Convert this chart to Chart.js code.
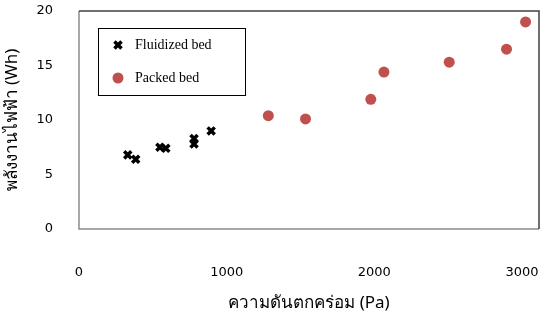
<!DOCTYPE html>
<html>
<head>
<meta charset="utf-8">
<script src="https://cdn.jsdelivr.net/npm/chart.js@4"></script>
<style>
  html, body { margin: 0; padding: 0; background: #fff; }
  #wrap { width: 541px; height: 325px; }
</style>
</head>
<body>
<div id="wrap"><canvas id="chart" width="541" height="325"></canvas></div>
<script>
// ─── Data ───
const seriesNames = ['Fluidized bed', 'Packed bed'];
const fluidX = [330, 384, 548, 588, 779, 779, 895];
const fluidY = [6.8, 6.4, 7.5, 7.4, 8.3, 7.8, 9.0];
const packedX = [1282, 1534, 1976, 2065, 2507, 2895, 3024];
const packedY = [10.4, 10.1, 11.9, 14.4, 15.3, 16.5, 19.0];
const xTicks = [0, 1000, 2000, 3000];
const yTicks = [0, 5, 10, 15, 20];
const xTitle = 'ความดันตกคร่อม (Pa)';
const yTitle = 'พลังงานไฟฟ้า (Wh)';

function toPoints(xs, ys) {
    return xs.map((x, i) => ({ x: x, y: ys[i] }));
}

// ─── Plot box + in-plot legend ───
const boxPlugin = {
    id: 'plotBox',
    afterDraw(chart) {
        const ctx = chart.ctx;
        const a = chart.chartArea;
        ctx.save();
        ctx.lineWidth = 1.5;
        ctx.strokeStyle = '#8c8c8c';
        ctx.beginPath();
        ctx.moveTo(a.left, a.top);
        ctx.lineTo(a.left, a.bottom);
        ctx.lineTo(a.right, a.bottom);
        ctx.stroke();
        ctx.strokeStyle = '#404040';
        ctx.beginPath();
        ctx.moveTo(a.left, a.top);
        ctx.lineTo(a.right, a.top);
        ctx.lineTo(a.right, a.bottom);
        ctx.stroke();

        // legend box
        const lx = a.left + 19, ly = a.top + 17, lw = 147, lh = 67;
        ctx.lineWidth = 1;
        ctx.strokeStyle = '#000';
        ctx.strokeRect(lx + 0.5, ly + 0.5, lw, lh);

        ctx.font = '14px "Liberation Serif", serif';
        ctx.textBaseline = 'middle';
        chart.data.datasets.forEach((ds, i) => {
            const cy = ly + 17 + i * 33;
            const cx = lx + 20;
            ctx.fillStyle = ds.backgroundColor;
            ctx.strokeStyle = ds.borderColor;
            ctx.lineWidth = ds.borderWidth;
            Chart.helpers.drawPoint(ctx, {
                pointStyle: ds.pointStyle,
                radius: ds.pointRadius,
                borderWidth: ds.borderWidth
            }, cx, cy);
            ctx.fillStyle = '#000';
            ctx.fillText(ds.label, cx + 17, cy);
        });
        ctx.restore();
    }
};

new Chart(document.getElementById('chart'), {
    type: 'scatter',
    data: {
        datasets: [{
            label: seriesNames[0],
            data: toPoints(fluidX, fluidY),
            pointStyle: 'crossRot',
            pointRadius: 5,
            borderWidth: 3.5,
            borderColor: '#000',
            backgroundColor: '#000'
        }, {
            label: seriesNames[1],
            data: toPoints(packedX, packedY),
            pointStyle: 'circle',
            pointRadius: 5.5,
            borderWidth: 0,
            borderColor: '#c0504d',
            backgroundColor: '#c0504d'
        }]
    },
    options: {
        responsive: false,
        animation: false,
        layout: { autoPadding: false, padding: { top: 11, right: 2, left: 0, bottom: 0 } },
        plugins: {
            legend: { display: false },
            tooltip: { enabled: false }
        },
        scales: {
            x: {
                type: 'linear',
                min: 0,
                max: 3115,
                afterBuildTicks: s => { s.ticks = xTicks.map(v => ({ value: v })); },
                afterFit: s => {
                    s.height = 96;
                    s.paddingLeft = 0; s.paddingRight = 0;
                },
                grid: { display: false, drawTicks: false },
                border: { display: false },
                ticks: {
                    padding: 36,
                    color: '#000',
                    maxRotation: 0,
                    callback: v => String(v),
                    font: { family: 'DejaVu Sans', size: 13 }
                },
                title: {
                    display: true,
                    text: xTitle,
                    color: '#000',
                    padding: { top: 0, bottom: 12 },
                    font: { family: 'Noto Sans', size: 17 }
                }
            },
            y: {
                type: 'linear',
                min: 0,
                max: 20,
                afterBuildTicks: s => { s.ticks = yTicks.map(v => ({ value: v })); },
                afterFit: s => {
                    s.width = 79;
                    s.paddingTop = 0; s.paddingBottom = 0;
                },
                grid: { display: false, drawTicks: false },
                border: { display: false },
                ticks: {
                    padding: 26,
                    color: '#000',
                    callback: v => String(v),
                    font: { family: 'DejaVu Sans', size: 13 }
                },
                title: {
                    display: true,
                    text: yTitle,
                    color: '#000',
                    padding: { top: 2, bottom: 0 },
                    font: { family: 'Noto Sans', size: 17 }
                }
            }
        }
    },
    plugins: [boxPlugin]
});
</script>
</body>
</html>
